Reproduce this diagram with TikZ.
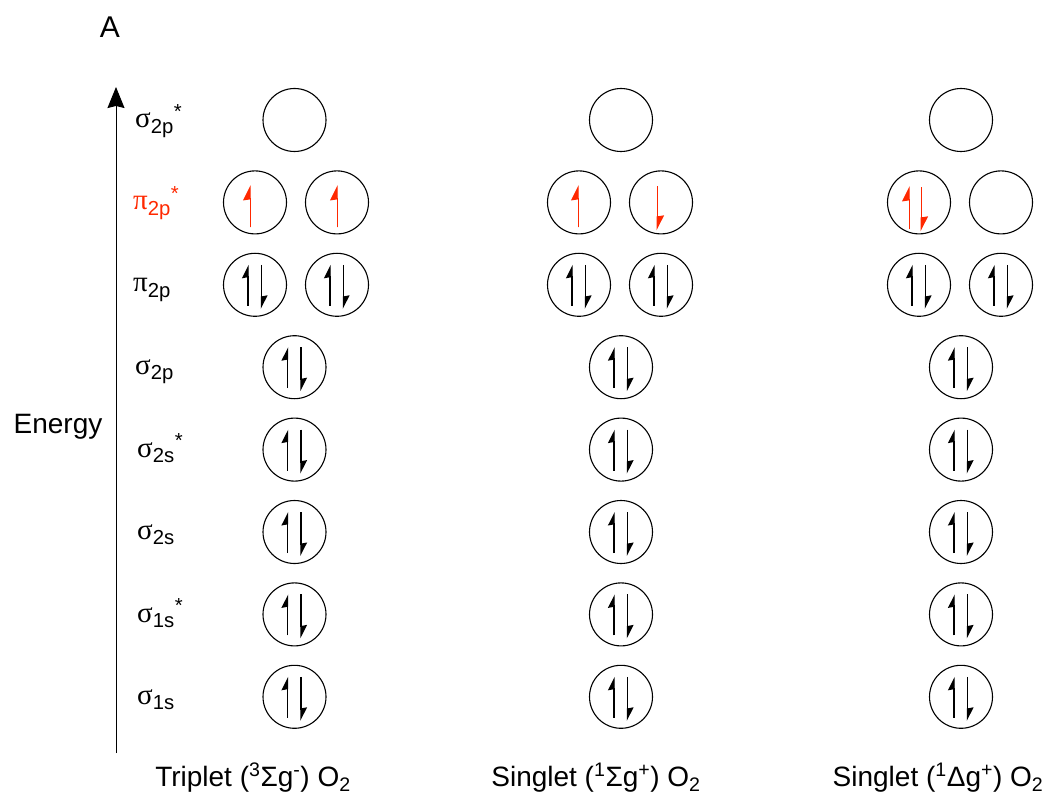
\documentclass[tikz,border=0pt]{standalone}
\usepackage{fontspec}
\setmainfont{Liberation Sans}
\newfontfamily\greekfont{Liberation Serif}
\usetikzlibrary{arrows.meta}
\definecolor{spinred}{RGB}{255,40,0}

\tikzset{
  orbital/.style={circle, draw, line width=1.1pt, minimum size=63pt, inner sep=0pt},
  spinup/.style={line width=1.4pt, -{Stealth[left,length=12pt,width=12pt,inset=1pt]}},
  spindown/.style={spinup},
  redspin/.style={line width=1pt, draw=spinred, fill=spinred,
    -{Stealth[left,length=14pt,width=14pt,inset=1pt]}},
  molabel/.style={anchor=base west, font=\fontsize{29}{29}\selectfont, inner sep=0pt},
  statelabel/.style={anchor=base, font=\fontsize{28}{28}\selectfont, inner sep=0pt},
  axis/.style={line width=1pt, -{Stealth[length=21pt,width=17pt,inset=2pt]}}
}

% paired electrons in one orbital
\newcommand\spinpair[1]{%
  \draw[spinup] ([xshift=-7pt,yshift=-21pt]#1.center) -- ([xshift=-7pt,yshift=20pt]#1.center);
  \draw[spindown] ([xshift=6.5pt,yshift=20pt]#1.center) -- ([xshift=6.5pt,yshift=-24pt]#1.center);}

\begin{document}
\begin{tikzpicture}[x=1pt,y=-1pt]
\path[use as bounding box] (0,0) rectangle (1047,794);

% panel letter and energy axis
\node[anchor=base, font=\fontsize{30}{30}\selectfont, inner sep=0pt] (panel) at (110,38) {A};
\coordinate (ebot) at (116,753);
\coordinate (etop) at (116,87);
\draw[axis] (ebot) -- (etop);
\node[anchor=base, font=\fontsize{28}{28}\selectfont, inner sep=0pt] (energy) at (58,433) {Energy};

% orbital labels
\node[molabel] (l8) at (135,128) {{\greekfont σ}\textsubscript{2p}\textsuperscript{*}};
\node[molabel, text=spinred] (l7) at (133,210) {{\greekfont π}\textsubscript{2p}\textsuperscript{*}};
\node[molabel] (l6) at (133,292) {{\greekfont π}\textsubscript{2p}};
\node[molabel] (l5) at (135,374) {{\greekfont σ}\textsubscript{2p}};
\node[molabel] (l4) at (137,457) {{\greekfont σ}\textsubscript{2s}\textsuperscript{*}};
\node[molabel] (l3) at (137,539) {{\greekfont σ}\textsubscript{2s}};
\node[molabel] (l2) at (137,622) {{\greekfont σ}\textsubscript{1s}\textsuperscript{*}};
\node[molabel] (l1) at (137,704) {{\greekfont σ}\textsubscript{1s}};

% the three columns of orbitals
\foreach \c/\sx/\pl/\pr in {a/294.5/255/337, b/621/579/661, c/961/919/1001}{
  \node[orbital] (\c8)  at (\sx,120) {};
  \node[orbital] (\c7l) at (\pl,202.4) {};
  \node[orbital] (\c7r) at (\pr,202.4) {};
  \node[orbital] (\c6l) at (\pl,284.8) {};
  \node[orbital] (\c6r) at (\pr,284.8) {};
  \node[orbital] (\c5)  at (\sx,367.2) {};
  \node[orbital] (\c4)  at (\sx,449.6) {};
  \node[orbital] (\c3)  at (\sx,532) {};
  \node[orbital] (\c2)  at (\sx,614.4) {};
  \node[orbital] (\c1)  at (\sx,696.8) {};
  \spinpair{\c6l}\spinpair{\c6r}
  \spinpair{\c5}\spinpair{\c4}\spinpair{\c3}\spinpair{\c2}\spinpair{\c1}
}

% pi* electrons
\draw[redspin] ([xshift=-5pt,yshift=-25pt]a7l.center) -- ([xshift=-5pt,yshift=17pt]a7l.center);
\draw[redspin] ([xshift=0pt,yshift=-25pt]a7r.center) -- ([xshift=0pt,yshift=17pt]a7r.center);
\draw[redspin] ([xshift=-1pt,yshift=-25pt]b7l.center) -- ([xshift=-1pt,yshift=17pt]b7l.center);
\draw[redspin] ([xshift=-4pt,yshift=16pt]b7r.center) -- ([xshift=-4pt,yshift=-28pt]b7r.center);
\draw[redspin] ([xshift=-10pt,yshift=-27pt]c7l.center) -- ([xshift=-10pt,yshift=16pt]c7l.center);
\draw[redspin] ([xshift=2pt,yshift=15pt]c7l.center) -- ([xshift=2pt,yshift=-29pt]c7l.center);

% state labels
\node[statelabel] (sa) at (253,786) {Triplet (\textsuperscript{3}Σg\textsuperscript{-}) O\textsubscript{2}};
\node[statelabel] (sb) at (596,786) {Singlet (\textsuperscript{1}Σg\textsuperscript{+}) O\textsubscript{2}};
\node[statelabel] (sc) at (938,786) {Singlet (\textsuperscript{1}Δg\textsuperscript{+}) O\textsubscript{2}};
\end{tikzpicture}
\end{document}
